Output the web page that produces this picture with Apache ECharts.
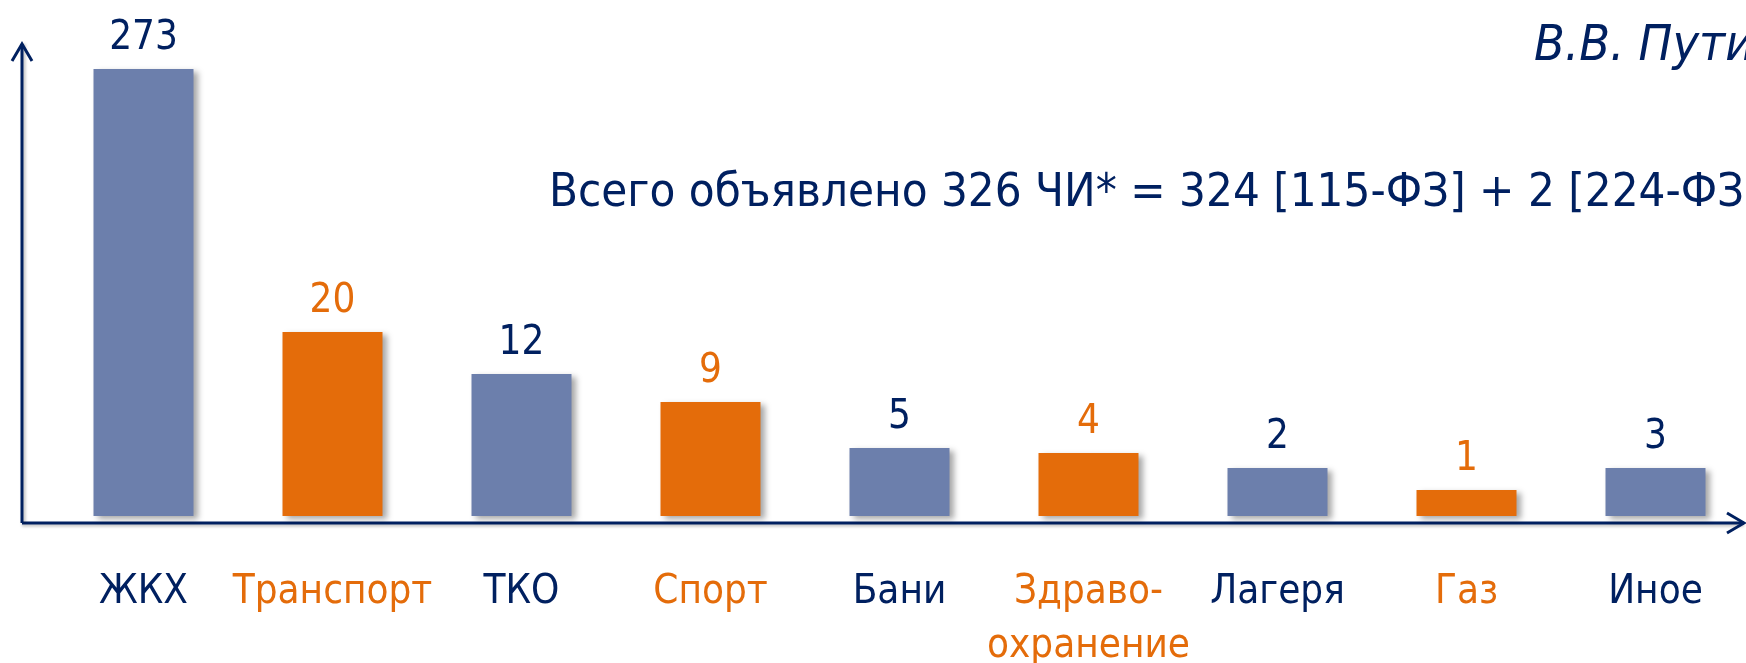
<!DOCTYPE html>
<html>
<head>
<meta charset="utf-8">
<script src="https://cdn.jsdelivr.net/npm/echarts@6/dist/echarts.min.js"></script>
<style>
  html, body { margin: 0; padding: 0; background: #ffffff; }
  #chart { width: 1746px; height: 663px; }
</style>
</head>
<body>
<div id="chart"></div>
<script>
// категории и подписи
const categories = ['ЖКХ', 'Транспорт', 'ТКО', 'Спорт', 'Бани', 'Здраво-\nохранение', 'Лагеря', 'Газ', 'Иное']
// число объявленных ЧИ (подписи над столбиками)
const counts = [273, 20, 12, 9, 5, 4, 2, 1, 3]
// высота столбиков на слайде (шкала нелинейная)
const barHeights = [447, 184, 142, 114, 68, 63, 48, 26, 48]

const NAVY = '#002060'
const BLUE = '#6c7fac'
const ORANGE = '#e46c0a'
const FONT = "'DejaVu Sans Condensed', 'Noto Sans', sans-serif"

const chart = echarts.init(document.getElementById('chart'))

// через один: синий / оранжевый
const isOrange = (i) => i % 2 === 1

const option = {
  backgroundColor: '#ffffff',
  title: [
    {
      text: 'Всего объявлено 326 ЧИ* = 324 [115-ФЗ] + 2 [224-ФЗ]',
      left: 549,
      top: 170,
      padding: 0,
      textStyle: { color: NAVY, fontSize: 47, fontWeight: 'normal', fontFamily: FONT },
    },
    {
      text: 'В.В. Путин',
      left: 1534,
      top: 22,
      padding: 0,
      textStyle: { color: NAVY, fontSize: 50, fontWeight: 'normal', fontStyle: 'italic', fontFamily: FONT },
    },
  ],
  // сетка не должна сжиматься из-за подписей внизу
  grid: { left: 49, width: 1701, top: 66, height: 450, outerBoundsMode: 'none' },
  xAxis: {
    type: 'category',
    data: categories,
    axisLine: { show: false },
    axisTick: { show: false },
    axisLabel: {
      margin: 50,
      fontSize: 40,
      lineHeight: 54,
      fontFamily: FONT,
      interval: 0,
      color: (val, idx) => (isOrange(idx) ? ORANGE : NAVY),
    },
  },
  yAxis: {
    type: 'value',
    min: 0,
    max: 450,
    show: false,
    splitLine: { show: false },
  },
  series: [
    {
      type: 'bar',
      barWidth: 100,
      data: barHeights.map((h, i) => ({
        value: h,
        itemStyle: { color: isOrange(i) ? ORANGE : BLUE },
        label: { color: isOrange(i) ? ORANGE : NAVY },
      })),
      itemStyle: {
        shadowColor: 'rgba(0, 0, 0, 0.35)',
        shadowBlur: 6,
        shadowOffsetX: 4,
        shadowOffsetY: 3,
      },
      label: {
        show: true,
        position: 'top',
        distance: 10,
        fontSize: 40,
        fontFamily: FONT,
        formatter: (p) => String(counts[p.dataIndex]),
      },
      emphasis: { disabled: true },
    },
  ],
  // стрелки осей (оформление слайда)
  graphic: [
    {
      type: 'polyline',
      shape: { points: [[22, 523], [1744, 523]] },
      style: { stroke: NAVY, lineWidth: 3, shadowColor: 'rgba(0,0,0,0.25)', shadowBlur: 3, shadowOffsetY: 2 },
    },
    {
      type: 'polyline',
      shape: { points: [[1727, 513], [1744, 523], [1727, 533]] },
      style: { stroke: NAVY, lineWidth: 3, fill: null },
    },
    {
      type: 'polyline',
      shape: { points: [[22, 523], [22, 44]] },
      style: { stroke: NAVY, lineWidth: 3, shadowColor: 'rgba(0,0,0,0.25)', shadowBlur: 3, shadowOffsetX: 2 },
    },
    {
      type: 'polyline',
      shape: { points: [[12, 61], [22, 44], [32, 61]] },
      style: { stroke: NAVY, lineWidth: 3, fill: null },
    },
  ],
}

chart.setOption(option)
window.addEventListener('resize', () => chart.resize())
</script>
</body>
</html>
